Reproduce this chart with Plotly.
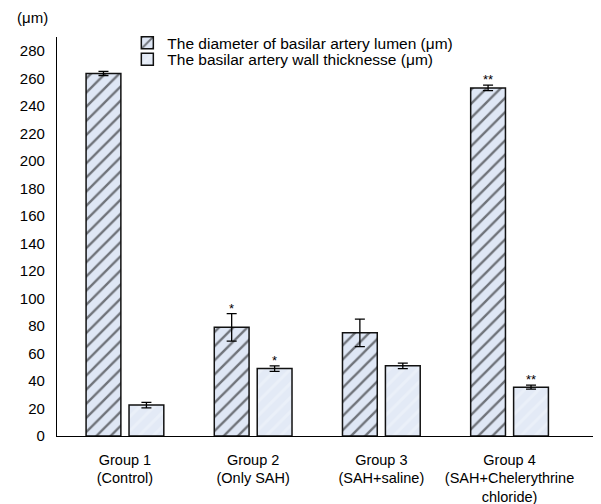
import plotly.graph_objects as go

groups = ["Group 1<br>(Control)", "Group 2<br>(Only SAH)", "Group 3<br>(SAH+saline)",
          "Group 4<br>(SAH+Chelerythrine<br>chloride)"]
lumen = [263.5, 79, 75, 253]
lumen_err = [1.5, 10, 10, 2]
wall = [22.5, 49, 51, 35.5]
wall_err = [2, 2, 2, 1.5]
lumen_sig = ["", "*", "", "**"]
wall_sig = ["", "*", "", "**"]
yticks = list(range(0, 281, 20))

xpos = list(range(len(groups)))
OFF = 0.168

fig = go.Figure()
fig.add_trace(go.Bar(
    x=xpos, y=lumen, name="The diameter of basilar artery lumen (μm)", legend="legend",
    error_y=dict(type="data", array=lumen_err, color="black", thickness=1.3, width=5),
    marker=dict(color="#dfe7f5", line=dict(color="#111", width=1.5),
                pattern=dict(shape="/", fgcolor="#000", bgcolor="#dfe7f5", size=10, solidity=0.24)),
))
fig.add_trace(go.Bar(
    x=xpos, y=wall, name="The basilar artery wall thicknesse (μm)", legend="legend2",
    error_y=dict(type="data", array=wall_err, color="black", thickness=1.3, width=5),
    marker=dict(color="#e3eaf6", line=dict(color="#111", width=1.5),
                pattern=dict(shape="/", fgcolor="#f2f5fb", bgcolor="#e3eaf6", size=10, solidity=0.3)),
))

ann = []
for i in xpos:
    if lumen_sig[i]:
        ann.append(dict(x=i - OFF, y=lumen[i] + lumen_err[i], text=lumen_sig[i], showarrow=False,
                        yanchor="bottom", yshift=-4, font=dict(size=13, color="black"), xref="x", yref="y"))
    if wall_sig[i]:
        ann.append(dict(x=i + OFF, y=wall[i] + wall_err[i], text=wall_sig[i], showarrow=False,
                        yanchor="bottom", yshift=-4, font=dict(size=13, color="black"), xref="x", yref="y"))
ann.append(dict(x=-0.046, y=1.049, xref="paper", yref="paper", text="(μm)", showarrow=False,
                xanchor="center", yanchor="middle", font=dict(size=15, color="black")))

leg_common = dict(xanchor="left", yanchor="top", bgcolor="rgba(0,0,0,0)",
                  font=dict(size=15.5), itemwidth=30, tracegroupgap=0)
fig.update_layout(
    width=593, height=496,
    margin=dict(l=49, r=3, t=29, b=68),
    paper_bgcolor="white", plot_bgcolor="white",
    font=dict(family="Liberation Sans, Arial, sans-serif", size=12, color="black"),
    barmode="group", bargap=0.33, bargroupgap=0.19,
    showlegend=True,
    legend=dict(x=0.13, y=1.027, **leg_common),
    legend2=dict(x=0.13, y=0.9855, **leg_common),
    annotations=ann,
)
fig.update_xaxes(range=[-0.530, 3.69], tickvals=xpos, ticktext=groups, showline=True,
                 linecolor="black", linewidth=1.2, ticks="", showgrid=False, zeroline=False,
                 tickfont=dict(size=14.5), ticklabelstandoff=10, automargin=False)
fig.update_yaxes(range=[0, 290], tickvals=yticks, showline=True, linecolor="black", linewidth=1.2,
                 ticks="", showgrid=False, zeroline=False, tickfont=dict(size=15),
                 ticklabelstandoff=8, automargin=False)

fig.write_html("out.html")
